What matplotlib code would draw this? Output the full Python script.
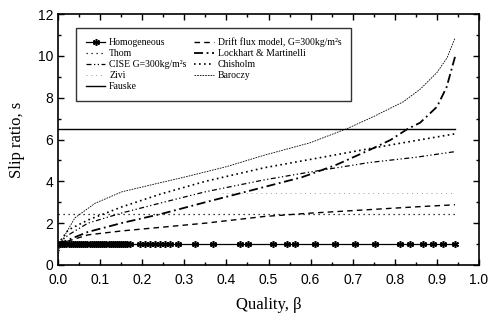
import numpy as np
import matplotlib
matplotlib.use('Agg')
import matplotlib.pyplot as plt
from matplotlib.ticker import MultipleLocator

# Values
homog_beta = [0.0, 0.005, 0.01, 0.015, 0.02, 0.025, 0.03, 0.035, 0.04, 0.045, 0.05,
              0.055, 0.06, 0.065, 0.07, 0.075, 0.08, 0.085, 0.09, 0.095, 0.1,
              0.105, 0.11, 0.115, 0.12, 0.125, 0.13, 0.135, 0.14, 0.145, 0.15,
              0.155, 0.16, 0.165, 0.17, 0.195, 0.207, 0.219, 0.23, 0.242, 0.254,
              0.266, 0.286, 0.325, 0.369, 0.432, 0.452, 0.511, 0.543, 0.563, 0.61,
              0.658, 0.705, 0.753, 0.812, 0.836, 0.867, 0.891, 0.915, 0.943]
homog_s = [1.0] * len(homog_beta)

thom_beta = [0.0, 0.943]
thom_s = [2.45, 2.45]

cise_beta = [0.0, 0.024, 0.071, 0.152, 0.245, 0.35, 0.49, 0.6, 0.74, 0.85, 0.943]
cise_s = [1.0, 1.43, 2.0, 2.49, 2.97, 3.5, 4.07, 4.45, 4.9, 5.15, 5.42]

zivi_beta = [0.39, 0.943]
zivi_s = [3.45, 3.45]

fauske_beta = [0.0, 0.943]
fauske_s = [6.5, 6.5]

drift_beta = [0.0, 0.033, 0.071, 0.152, 0.254, 0.35, 0.49, 0.6, 0.75, 0.85, 0.943]
drift_s = [1.0, 1.2, 1.44, 1.63, 1.82, 2.0, 2.32, 2.48, 2.66, 2.78, 2.88]

lm_beta = [0.0, 0.024, 0.071, 0.152, 0.245, 0.35, 0.49, 0.58, 0.66, 0.74, 0.79,
           0.83, 0.86, 0.90, 0.923, 0.943]
lm_s = [1.0, 1.2, 1.58, 2.01, 2.44, 3.0, 3.73, 4.2, 4.78, 5.5, 5.98,
        6.5, 6.8, 7.56, 8.5, 9.95]

chis_beta = [0.0, 0.024, 0.071, 0.152, 0.245, 0.35, 0.49, 0.6, 0.75, 0.85, 0.943]
chis_s = [1.0, 1.67, 2.15, 2.78, 3.4, 4.0, 4.65, 5.05, 5.6, 5.95, 6.27]

bar_beta = [0.0, 0.005, 0.017, 0.04, 0.088, 0.152, 0.24, 0.3, 0.4, 0.49, 0.6,
            0.69, 0.75, 0.82, 0.86, 0.90, 0.924, 0.943]
bar_s = [0.4, 0.9, 1.45, 2.25, 2.95, 3.5, 3.92, 4.2, 4.7, 5.25, 5.85,
         6.55, 7.1, 7.8, 8.4, 9.2, 9.9, 10.85]

serif = ['Liberation Serif', 'DejaVu Serif']
plt.rcParams['font.family'] = ['Liberation Sans', 'DejaVu Sans']

fig = plt.figure(figsize=(4.94, 3.2), dpi=100)
ax = fig.add_axes([58 / 494, 1 - 265 / 320, 421 / 494, 251 / 320])

ax.plot(homog_beta, homog_s, color='black', lw=0.9, marker=(6, 2, 0),
        ms=5, mew=1.1, label='Homogeneous')
ax.plot(thom_beta, thom_s, color='black', lw=0.9, linestyle=(0, (1, 3)),
        label='Thom')
ax.plot(cise_beta, cise_s, color='black', lw=0.9,
        linestyle=(0, (4, 2, 1, 2, 1, 2)), label='CISE G=300kg/m²s')
ax.plot(zivi_beta, zivi_s, color='#999999', lw=0.7, linestyle=(0, (1, 4)),
        label='Zivi')
ax.plot(fauske_beta, fauske_s, color='black', lw=1.0, label='Fauske')
ax.plot(drift_beta, drift_s, color='black', lw=1.0, linestyle=(0, (4, 3)),
        label='Drift flux model, G=300kg/m²s')
ax.plot(lm_beta, lm_s, color='black', lw=1.3, linestyle=(0, (5, 2, 1, 2)),
        label='Lockhart & Martinelli')
ax.plot(chis_beta, chis_s, color='black', lw=1.2, linestyle=(0, (1, 2)),
        label='Chisholm')
ax.plot(bar_beta, bar_s, color='black', lw=0.6, linestyle=(0, (2, 1.2)),
        label='Baroczy')

ax.set_xlim(0, 1.0)
ax.set_ylim(0, 12)
ax.xaxis.set_major_locator(MultipleLocator(0.1))
ax.xaxis.set_minor_locator(MultipleLocator(0.05))
ax.yaxis.set_major_locator(MultipleLocator(2))
ax.yaxis.set_minor_locator(MultipleLocator(1))
ax.xaxis.set_major_formatter(plt.FormatStrFormatter('%.1f'))
ax.tick_params(which='both', direction='in', top=True, right=True,
               labelsize=10, width=1.0)
ax.tick_params(which='major', length=4)
ax.tick_params(which='minor', length=2)
ax.tick_params(axis='x', pad=6)
for sp in ax.spines.values():
    sp.set_linewidth(1.2)

ax.set_xlabel('Quality, β', family=serif, fontsize=12, labelpad=7)
ax.set_ylabel('Slip ratio, s', family=serif, fontsize=12, labelpad=9)

leg = ax.legend(ncol=2, loc='upper left', bbox_to_anchor=(0.043, 0.944),
                prop={'family': serif, 'size': 7},
                frameon=True, fancybox=False, edgecolor='black',
                handlelength=2.0, labelspacing=0.2, columnspacing=0.8,
                borderpad=1.0, handletextpad=0.4, borderaxespad=0)
leg.get_frame().set_linewidth(1.0)

fig.savefig('out.png', dpi=100)
